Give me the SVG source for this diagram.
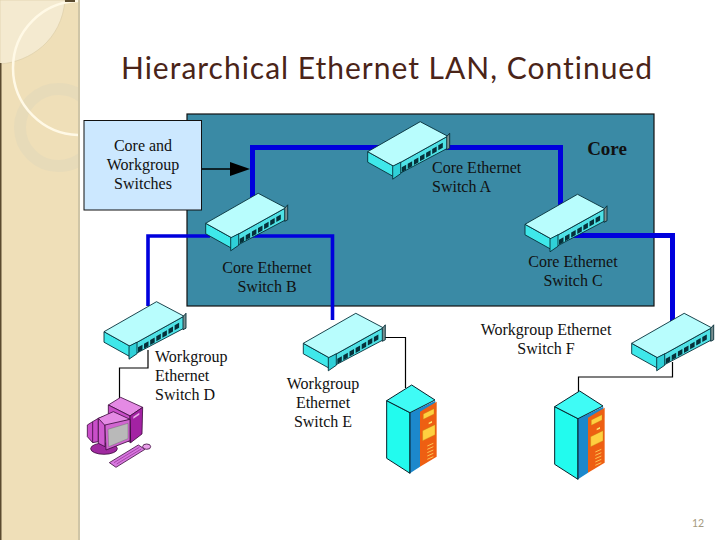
<svg xmlns="http://www.w3.org/2000/svg" width="720" height="540" viewBox="0 0 720 540">
<style>
.lbl{font-family:"Liberation Serif","Times New Roman",serif;font-size:16px;fill:#111}
.m{text-anchor:middle}
.thick{fill:none;stroke:#0000dd;stroke-width:5}
.mid{fill:none;stroke:#0000dd;stroke-width:3.6}
.thin{fill:none;stroke:#000;stroke-width:1.2}
.sw{stroke:#06303a;stroke-width:.9;stroke-linejoin:round}
.ol3{stroke:#05202a;stroke-width:3;stroke-linejoin:round}
.mg{stroke:#3a0a3a;stroke-width:2.4;stroke-linejoin:round}
</style>
<defs>
<clipPath id="sideClip"><rect x="0" y="0" width="78" height="540"/></clipPath>
<g id="switch">
<path class="sw" fill="#3fe8ea" d="M0 0L26 14.500V25L0 10.500Z"/>
<path class="sw" fill="#4fe2e6" d="M26 14.500L80 -15.500V-3.500L26 25Z"/>
<path class="sw" fill="#b8fdfd" d="M0 0L52.500 -30L80 -15.500L26 14.500Z"/>
<path class="sw" fill="#2fd0d8" d="M25 14.500L33 10.500V22L25 27.500Z"/>
<path class="sw" fill="#7a8f90" d="M79 -15L82 -18.500V-3.500L79 -2Z"/>
<g fill="#06303a">
<path d="M34 15.500l4.500-2.500v5l-4.500 2.500z"/>
<path d="M40 12l4.500-2.500v5l-4.500 2.500z"/>
<path d="M46.200 8.300l4.500-2.500v5l-4.500 2.500z"/>
<path d="M52.300 4.600l4.500-2.500v5l-4.500 2.500z"/>
<path d="M58.400 1l4.500-2.500v5l-4.500 2.500z"/>
<path d="M64.500 -2.700l4.500-2.500v5l-4.500 2.500z"/>
<path d="M70.600 -6.400l4.500-2.500v5l-4.500 2.500z"/>
</g>
</g>
<g id="server">
<path class="ol3" fill="#22fbee" d="M50 122L120 158V340L50 295Z"/>
<path fill="#1c88cc" d="M120 158L196 122V132L150 158V320L120 340Z"/>
<path d="M120 158V340" class="ol3" fill="none"/>
<path class="ol3" fill="#3ffbf5" d="M50 122L125 75L195 120L120 158Z"/>
<path fill="#ee5f12" d="M150 155L200 125V290L150 320Z"/>
<path fill="#ffd040" stroke="#b98a10" d="M160 162L192 146V162L160 178Z"/>
<path fill="#ffe870" d="M176 188L186 183V188L176 193Z"/>
<path fill="#ffd040" stroke="#b98a10" d="M158 212L195 194V224L158 242Z"/>
<path stroke="#ffd860" stroke-width="2.500" fill="none" d="M172 258L190 250M172 268L190 260M172 278L190 270M172 288L190 280M172 298L190 290"/>
</g>
</defs>
<rect width="720" height="540" fill="#fff"/>
<g id="sidebar">
<rect x="0" y="0" width="80" height="540" fill="#cfc5a6"/>
<rect x="0" y="0" width="78" height="540" fill="#efdfb8"/>
<path d="M0 0H65C62 40 30 62 0 64Z" fill="#f4ead0" stroke="#dccfa9" stroke-width=".7"/>
<g clip-path="url(#sideClip)">
<circle cx="58.500" cy="127.500" r="38.500" fill="none" stroke="#e7dbb9" stroke-width="12"/>
<circle cx="80" cy="68" r="67" fill="none" stroke="#fff9e6" stroke-width="2.500"/>
</g>
<rect x="0" y="63" width="1.500" height="477" fill="#5a4a2e"/>
<rect x="65" y="0" width="10" height="2" fill="#5a4a2e"/>
</g>
<text id="title" x="121" y="79" textLength="531" lengthAdjust="spacing" style="font-family:Lato,'Liberation Sans',sans-serif;font-size:30px;fill:#4a2418;font-variant-ligatures:none">Hierarchical Ethernet LAN, Continued</text>
<rect id="core" x="187" y="114" width="467" height="192" fill="#3a8aa5" stroke="#111" stroke-width="1.200"/>
<g id="connectors">
<path class="thick" d="M380 147.500H252.500V200"/>
<path class="thick" d="M440 147.500H560.500V210"/>
<path class="thick" d="M570 235.500H672.500V322"/>
<path class="mid" d="M210 236H148V306"/>
<path class="mid" d="M250 236H332.500V320"/>
<path class="thin" d="M148 350V368H119.500V398"/>
<path class="thin" d="M383 337.500H405.500V388"/>
<path class="thin" d="M672.500 362V377H578.500V394"/>
<path stroke="#000" stroke-width="1.500" d="M201 169H232"/>
<path fill="#000" d="M230 162L250 169L230 176Z"/>
</g>
<g id="box-core-workgroup">
<rect x="84" y="120.500" width="117.500" height="89.500" fill="#cce8ff" stroke="#111" stroke-width="1"/>
<text class="lbl m" x="143" y="151">Core and</text>
<text class="lbl m" x="143" y="170">Workgroup</text>
<text class="lbl m" x="143" y="189">Switches</text>
</g>
<text id="core-label" x="607" y="155" text-anchor="middle" style="font-family:'Liberation Serif',serif;font-size:19px;font-weight:bold;fill:#111">Core</text>
<g id="switch-a"><use href="#switch" x="367.700" y="151.700"/>
<text class="lbl" x="432" y="173">Core Ethernet</text><text class="lbl" x="432" y="192">Switch A</text></g>
<g id="switch-b"><use href="#switch" x="205.700" y="223.300"/>
<text class="lbl m" x="267" y="273">Core Ethernet</text><text class="lbl m" x="267" y="292">Switch B</text></g>
<g id="switch-c"><use href="#switch" x="525" y="224.300"/>
<text class="lbl m" x="573" y="267">Core Ethernet</text><text class="lbl m" x="573" y="286">Switch C</text></g>
<g id="switch-d"><use href="#switch" x="104" y="331.700"/>
<text class="lbl" x="155" y="362">Workgroup</text><text class="lbl" x="155" y="381">Ethernet</text><text class="lbl" x="155" y="400">Switch D</text></g>
<g id="switch-e"><use href="#switch" x="303.300" y="343.300"/>
<text class="lbl m" x="323" y="389">Workgroup</text><text class="lbl m" x="323" y="408">Ethernet</text><text class="lbl m" x="323" y="427">Switch E</text></g>
<g id="switch-f"><use href="#switch" x="631.700" y="343.300"/>
<text class="lbl m" x="546" y="335">Workgroup Ethernet</text><text class="lbl m" x="546" y="354">Switch F</text></g>
<g id="server-e" transform="translate(370,360) scale(.3333)"><use href="#server"/></g>
<g id="server-f" transform="translate(538,366) scale(.3333)"><use href="#server"/></g>
<g id="computer" transform="translate(80,290) scale(.3333)">
<path class="mg" fill="#e48ae4" d="M85 345L122 322L188 352L150 378Z"/>
<path class="mg" fill="#c94ec9" d="M85 345L150 378L152 458L85 420Z"/>
<path class="mg" fill="#a322a3" d="M150 378L188 352L186 432L152 458Z"/>
<path fill="#e8b0e8" d="M160 380L178 368V374L160 386Z"/>
<ellipse class="mg" cx="72" cy="476" rx="40" ry="17" fill="#a02aa0"/>
<path class="mg" fill="#c94ec9" d="M22 405L38 395L55 385V455L38 458L22 440Z"/>
<path class="mg" fill="#cf5acf" d="M38 395V458M55 385L75 378V470L55 460Z"/>
<path class="mg" fill="#e48ae4" d="M55 385L100 365L150 388L80 412Z"/>
<path class="mg" fill="#d066d0" d="M75 405L150 388V452L78 480Z"/>
<path fill="#b9b9b9" stroke="#555" d="M84 418L144 400V446L86 470Z"/>
<path class="mg" fill="#d878e0" d="M88 518L175 465L195 478L108 532Z"/>
<path stroke="#8a2a8a" stroke-width="2" fill="none" d="M102 518L178 472M110 522L184 477"/>
<ellipse class="mg" cx="200" cy="470" rx="12" ry="8" fill="#e8a0e8"/>
</g>
<text id="page" x="692" y="527" style="font-family:Lato,'Liberation Sans',sans-serif;font-size:10.500px;fill:#a59a80">12</text>
</svg>
